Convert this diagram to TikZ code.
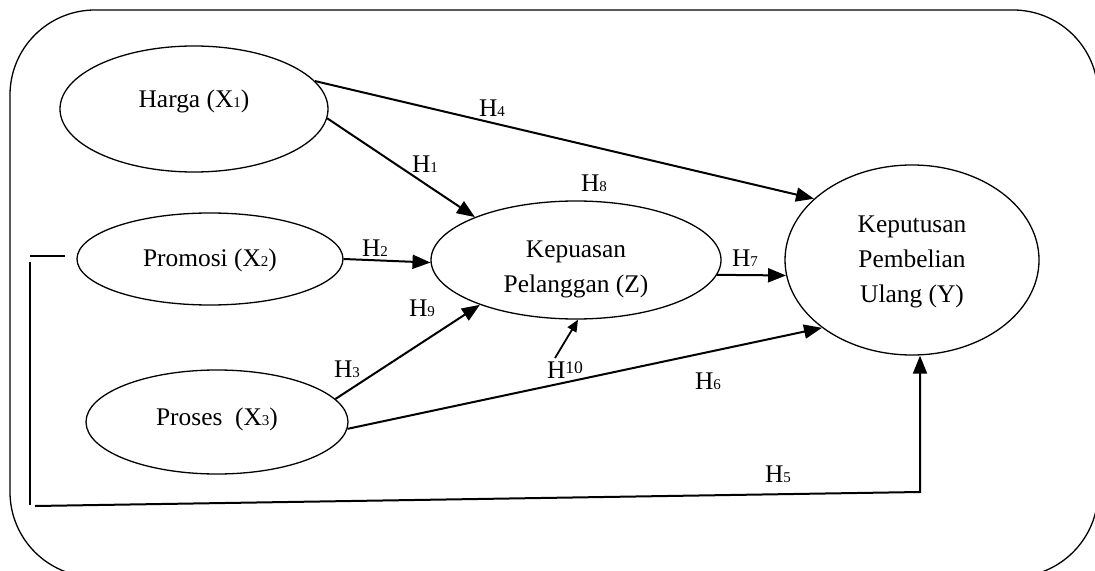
\documentclass[tikz,border=0pt]{standalone}
\usepackage{fontspec}
\setmainfont{Liberation Serif}
\usetikzlibrary{arrows.meta,shapes.geometric}
\newcommand\sd[1]{{\fontsize{7.5}{9}\selectfont #1}}
\begin{document}
\begin{tikzpicture}[x=0.5pt,y=-0.5pt,
  font=\fontsize{12.7}{17.5}\selectfont,
  ell/.style={draw, ellipse, line width=0.65pt, inner sep=0pt},
  conn/.style={line width=1pt, -{Triangle[length=9pt,width=7pt]}},
  conns/.style={line width=0.9pt, -{Triangle[length=6pt,width=5pt]}},
  plainline/.style={line width=0.9pt},
  hlab/.style={inner sep=0pt}]
\useasboundingbox (0,0) rectangle (1095,571);
\begin{scope}
\clip (0,0) rectangle (1095,571);
\draw[line width=0.65pt, rounded corners=42.5pt] (10,10) rectangle (1098,577);
\end{scope}

\node[ell, minimum width=134pt, minimum height=63pt, text height=7pt, text depth=8pt] (harga) at (194,109) {Harga (X\sd{1})};
\node[ell, minimum width=133pt, minimum height=46pt, text height=10pt, text depth=2pt] (promosi) at (210,259) {Promosi (X\sd{2})};
\node[ell, minimum width=131pt, minimum height=52pt, text height=8pt, text depth=5pt] (proses) at (217,422) {Proses~ (X\sd{3})};
\node[ell, minimum width=145pt, minimum height=59pt, text height=6pt, text depth=9pt] (kep) at (576,260) {\begin{tabular}[t]{@{}c@{}}Kepuasan\\Pelanggan (Z)\end{tabular}};
\node[ell, minimum width=127pt, minimum height=95pt, text height=2pt, text depth=29pt] (kepy) at (912,260) {\begin{tabular}[t]{@{}c@{}}Keputusan\\Pembelian\\Ulang (Y)\end{tabular}};

\draw[conn] (harga.13) -- (kepy.148);
\draw[conn] (harga.-4) -- (kep.157);
\draw[conn] (promosi.east) -- (kep.181);
\draw[conn] (kep.-6) -- (kepy.187);
\draw[conn] (proses.11) -- (kep.205);
\draw[conn] (proses.-3) -- (kepy.217);
\coordinate (h10s) at (555,358);
\draw[conns] (h10s) -- (kep.-88);

\coordinate (b1) at (30,256);
\coordinate (b2) at (65,256);
\coordinate (v1) at (30,262);
\coordinate (v2) at (30,505);
\coordinate (w1) at (35,506);
\coordinate (w2) at (920,492);
\draw[plainline] (b1) -- (b2);
\draw[plainline] (v1) -- (v2);
\draw[conn] (w1) -- (w2) -- (w2 |- kepy.south);

\node[hlab] (l4) at (492,108) {H\sd{4}};
\node[hlab] (l1) at (425,164) {H\sd{1}};
\node[hlab] (l8) at (594,183) {H\sd{8}};
\node[hlab] (l2) at (375,248) {H\sd{2}};
\node[hlab] (l7) at (745,258) {H\sd{7}};
\node[hlab] (l9) at (422,308) {H\sd{9}};
\node[hlab] (l3) at (347,369) {H\sd{3}};
\node[hlab] (l10) at (565,370) {H\raisebox{2.5pt}{\fontsize{8.8}{10}\selectfont 10}};
\node[hlab] (l6) at (708,381) {H\sd{6}};
\node[hlab] (l5) at (778,474) {H\sd{5}};
\end{tikzpicture}
\end{document}
